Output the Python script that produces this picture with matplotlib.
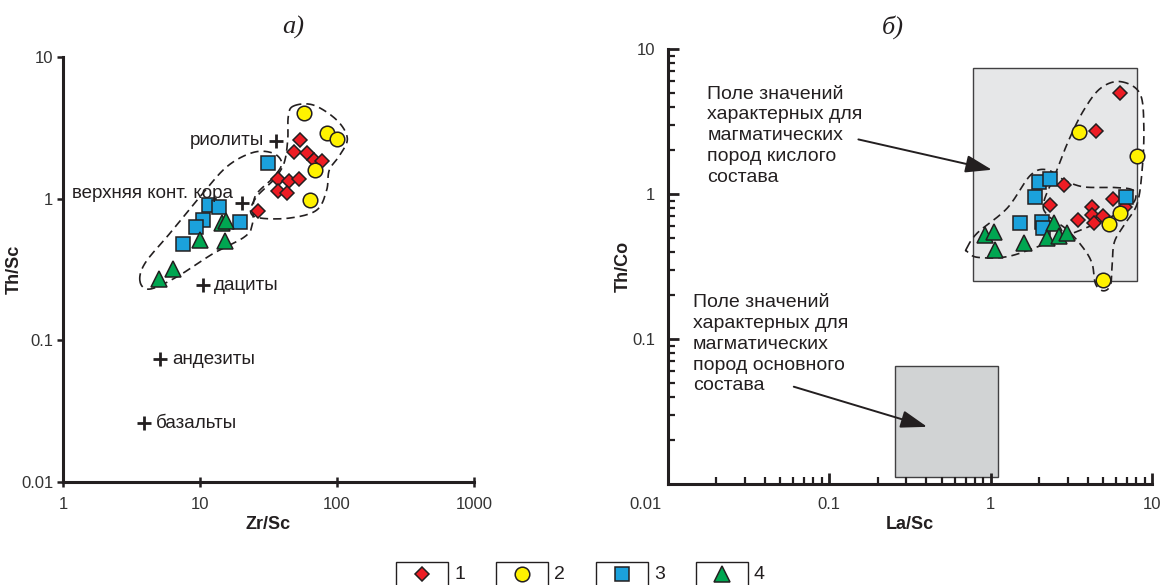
import numpy as np
import matplotlib
matplotlib.use("Agg")
import matplotlib.pyplot as plt
from matplotlib.patches import Rectangle
from matplotlib.transforms import ScaledTranslation
from matplotlib.ticker import FixedLocator, FuncFormatter, LogLocator, NullFormatter

plt.rcParams["font.family"] = ["Liberation Sans", "DejaVu Sans"]

# ---- panel a: Zr/Sc vs Th/Sc ----
a_red_x = [53.7, 48.8, 60.7, 67.9, 77.3, 37.3, 44.9, 52.5, 37.3, 42.9, 26.6]
a_red_y = [2.59, 2.14, 2.11, 1.87, 1.85, 1.37, 1.34, 1.37, 1.14, 1.10, 0.82]
a_yel_x = [57.8, 84.0, 100.5, 69.5, 63.5]
a_yel_y = [4.0, 2.89, 2.62, 1.59, 0.98]
a_blu_x = [31.5, 11.6, 13.8, 10.5, 9.35, 19.6, 7.47]
a_blu_y = [1.79, 0.90, 0.87, 0.71, 0.63, 0.68, 0.48]
a_grn_x = [14.4, 15.5, 10.0, 15.2, 6.4, 5.05]
a_grn_y = [0.67, 0.69, 0.51, 0.50, 0.32, 0.27]

ref_names = ["риолиты", "верхняя конт. кора", "дациты", "андезиты", "базальты"]
ref_x = [35.9, 20.1, 10.5, 5.1, 3.9]
ref_y = [2.56, 0.935, 0.245, 0.0735, 0.026]

# hand-drawn group outlines (vertices, data units)
envA_x = [3.65, 3.97, 6.04, 10.0, 15.7, 24.5, 34.3, 39.5, 34.3, 25.2, 24.2, 21.3, 12.5, 6.76, 4.31]
envA_y = [0.26, 0.35, 0.57, 1.03, 1.68, 2.12, 2.09, 1.77, 1.41, 1.03, 0.67, 0.54, 0.41, 0.28, 0.23]
envB_x = [48.0, 67.1, 99.5, 119, 105, 87.9, 84.1, 71.1, 45.4, 27.4, 23.4, 25.9, 34.3, 41.0, 43.7, 44.1]
envB_y = [4.5, 4.58, 3.59, 2.67, 2.03, 1.59, 1.15, 0.83, 0.73, 0.73, 0.81, 1.03, 1.35, 1.77, 2.59, 3.79]

# ---- panel б: La/Sc vs Th/Co ----
b_red_x = [6.38, 4.51, 2.85, 2.35, 5.75, 4.26, 3.49, 4.26, 4.99, 4.40, 6.85]
b_red_y = [5.0, 2.72, 1.15, 0.84, 0.93, 0.82, 0.66, 0.72, 0.71, 0.63, 0.82]
b_yel_x = [3.52, 8.1, 6.32, 5.40, 4.99]
b_yel_y = [2.69, 1.83, 0.74, 0.62, 0.255]
b_blu_x = [2.0, 2.32, 1.88, 6.95, 1.53, 2.07, 2.12]
b_blu_y = [1.21, 1.26, 0.96, 0.96, 0.63, 0.64, 0.58]
b_grn_x = [0.93, 1.05, 1.07, 1.61, 2.49, 2.24, 2.65, 2.99]
b_grn_y = [0.52, 0.55, 0.41, 0.46, 0.63, 0.50, 0.51, 0.54]

envC_x = [0.71, 0.83, 1.27, 1.77, 2.24, 2.85, 3.78, 5.80, 7.54, 7.91, 7.02, 5.03, 3.28, 2.04, 1.27, 0.83, 0.72]
envC_y = [0.42, 0.54, 0.80, 1.35, 1.47, 1.25, 1.12, 1.11, 1.07, 0.93, 0.80, 0.66, 0.54, 0.44, 0.37, 0.366, 0.40]
envD_x = [6.38, 8.41, 8.9, 8.69, 8.1, 6.85, 5.86, 5.67, 5.53, 4.99, 4.47, 4.26, 3.78, 2.99, 2.24, 2.14, 2.53, 3.05, 3.78, 4.80]
envD_y = [5.96, 4.94, 2.91, 1.47, 0.86, 0.63, 0.47, 0.33, 0.236, 0.215, 0.24, 0.33, 0.42, 0.565, 0.72, 0.885, 1.39, 2.35, 3.79, 5.36]

acid_box = (0.78, 8.1, 0.25, 7.36)     # xmin, xmax, ymin, ymax
basic_box = (0.255, 1.12, 0.0111, 0.065)
acid_text = "Поле значений\nхарактерных для\nмагматических\nпород кислого\nсостава"
basic_text = "Поле значений\nхарактерных для\nмагматических\nпород основного\nсостава"

legend_labels = ["1", "2", "3", "4"]

DARK = "#231f20"
styles = [
    dict(marker="D", ms=7.5, mfc="#ed1c24"),
    dict(marker="o", ms=10.5, mfc="#fff200"),
    dict(marker="s", ms=10, mfc="#1ba1dc"),
    dict(marker="^", ms=12, mfc="#00a651"),
]


def closed_curve(xs, ys, n=24):
    # periodic Catmull-Rom through the vertices, in log space
    P = np.column_stack([np.log10(xs), np.log10(ys)])
    m = len(P)
    t = np.linspace(0, 1, n, endpoint=False)[:, None]
    segs = []
    for i in range(m):
        p0, p1, p2, p3 = P[i - 1], P[i], P[(i + 1) % m], P[(i + 2) % m]
        segs.append(0.5 * (2 * p1 + (-p0 + p2) * t
                           + (2 * p0 - 5 * p1 + 4 * p2 - p3) * t ** 2
                           + (-p0 + 3 * p1 - 3 * p2 + p3) * t ** 3))
    pts = np.vstack(segs + [segs[0][:1]])
    return 10 ** pts[:, 0], 10 ** pts[:, 1]


def draw_points(ax, groups):
    for (x, y), st in zip(groups, styles):
        ax.plot(x, y, linestyle="none", mec=DARK, mew=1.1, zorder=4, **st)


def draw_envelope(ax, xs, ys):
    cx, cy = closed_curve(xs, ys)
    ax.plot(cx, cy, color=DARK, lw=1.2, dashes=(5, 3), zorder=3)


def style_axes(ax):
    ax.set_xscale("log")
    ax.set_yscale("log")
    for s in ["top", "right"]:
        ax.spines[s].set_visible(False)
    for s in ["left", "bottom"]:
        ax.spines[s].set_linewidth(2.2)
        ax.spines[s].set_color(DARK)
    ax.tick_params(labelsize=12, colors=DARK, labelcolor="#333333")
    ax.set_facecolor("none")


fig = plt.figure(figsize=(11.66, 5.85), dpi=100)

# ---------- panel a ----------
axa = fig.add_axes([0.0540, 0.1761, 0.3525, 0.7265])
style_axes(axa)
axa.set_xlim(1, 1000)
axa.set_ylim(0.01, 10)
axa.xaxis.set_major_locator(FixedLocator([1, 10, 100, 1000]))
axa.yaxis.set_major_locator(FixedLocator([0.01, 0.1, 1, 10]))
axa.xaxis.set_minor_locator(FixedLocator([]))
axa.yaxis.set_minor_locator(FixedLocator([]))
fmt = FuncFormatter(lambda v, p: f"{v:g}")
axa.xaxis.set_major_formatter(fmt)
axa.yaxis.set_major_formatter(fmt)
axa.tick_params(axis="x", direction="inout", length=7, width=1.8, pad=7)
axa.tick_params(axis="y", direction="out", length=4, width=1.8, pad=3)
axa.set_xlabel("Zr/Sc", fontsize=13, fontweight="bold", color=DARK, labelpad=3)
axa.set_ylabel("Th/Sc", fontsize=13, fontweight="bold", color=DARK)
axa.yaxis.set_label_coords(-0.098, 0.5)

draw_envelope(axa, envA_x, envA_y)
draw_envelope(axa, envB_x, envB_y)
draw_points(axa, [(a_red_x, a_red_y), (a_yel_x, a_yel_y),
                  (a_blu_x, a_blu_y), (a_grn_x, a_grn_y)])

axa.plot(ref_x, ref_y, linestyle="none", marker="+", ms=10, mew=2, color=DARK, zorder=5)
ref_offsets = [(-12, 0, "right"), (-9, 9, "right"), (11, 0, "left"), (12, 0, "left"), (12, 0, "left")]
for name, x, y, (dx, dy, ha) in zip(ref_names, ref_x, ref_y, ref_offsets):
    axa.annotate(name, (x, y), xytext=(dx, dy), textcoords="offset pixels",
                 ha=ha, va="center", fontsize=13.5, color=DARK, zorder=6)

fig.text(0.2513, 0.953, "а)", fontsize=19, family="Liberation Serif", style="italic",
         ha="center", va="center", color=DARK)

# ---------- panel б ----------
axb = fig.add_axes([0.5725, 0.1726, 0.4155, 0.7436])
style_axes(axb)
axb.set_xlim(0.01, 10)
axb.set_ylim(0.01, 10)
axb.xaxis.set_major_locator(FixedLocator([0.01, 0.1, 1, 10]))
axb.yaxis.set_major_locator(FixedLocator([0.1, 1, 10]))
axb.xaxis.set_minor_locator(LogLocator(base=10, subs=np.arange(2, 10)))
axb.yaxis.set_minor_locator(LogLocator(base=10, subs=np.arange(2, 10)))
axb.xaxis.set_minor_formatter(NullFormatter())
axb.yaxis.set_minor_formatter(NullFormatter())
axb.xaxis.set_major_formatter(fmt)
axb.yaxis.set_major_formatter(fmt)
axb.tick_params(which="major", direction="in", length=8, width=2, pad=9)
axb.tick_params(which="minor", direction="in", length=5, width=1.6, colors=DARK)
first = axb.xaxis.get_majorticklabels()[0]
first.set_transform(first.get_transform() + ScaledTranslation(-0.22, 0, fig.dpi_scale_trans))
axb.set_xlabel("La/Sc", fontsize=13, fontweight="bold", color=DARK, labelpad=3)
axb.set_ylabel("Th/Co", fontsize=13, fontweight="bold", color=DARK)
axb.yaxis.set_label_coords(-0.073, 0.5)

x0, x1, y0, y1 = acid_box
axb.add_patch(Rectangle((x0, y0), x1 - x0, y1 - y0, facecolor="#e6e7e8",
                        edgecolor="#414042", lw=1.0, zorder=1))
x0, x1, y0, y1 = basic_box
axb.add_patch(Rectangle((x0, y0), x1 - x0, y1 - y0, facecolor="#d1d3d4",
                        edgecolor="#414042", lw=1.0, zorder=1))

draw_envelope(axb, envC_x, envC_y)
draw_envelope(axb, envD_x, envD_y)
draw_points(axb, [(b_red_x, b_red_y), (b_yel_x, b_yel_y),
                  (b_blu_x, b_blu_y), (b_grn_x, b_grn_y)])

axb.text(0.0176, 5.6, acid_text, ha="left", va="top", fontsize=14,
         color=DARK, linespacing=1.3, zorder=6)
axb.text(0.0144, 0.205, basic_text, ha="left", va="top", fontsize=14,
         color=DARK, linespacing=1.3, zorder=6)
arrow = dict(arrowstyle="-|>,head_length=0.9,head_width=0.3", color=DARK, lw=1.4,
             shrinkA=0, shrinkB=0, mutation_scale=18)
axb.annotate("", xy=(1.02, 1.47), xytext=(0.152, 2.38), arrowprops=arrow, zorder=6)
axb.annotate("", xy=(0.405, 0.0248), xytext=(0.0605, 0.0469), arrowprops=arrow, zorder=6)

fig.text(0.766, 0.953, "б)", fontsize=19, family="Liberation Serif", style="italic",
         ha="center", va="center", color=DARK)

# ---------- legend strip ----------
axl = fig.add_axes([0, 0, 1, 40 / 585])
axl.set_xlim(0, 1166)
axl.set_ylim(40, 0)
axl.axis("off")
for i, (lab, st) in enumerate(zip(legend_labels, styles)):
    left = 396 + 100 * i
    axl.add_patch(Rectangle((left, 16.5), 52, 40, facecolor="white",
                            edgecolor=DARK, lw=1.0, clip_on=True))
    axl.plot([left + 26], [28.5], linestyle="none", mec=DARK, mew=1.1, **st)
    axl.text(left + 58, 29.5, lab, ha="left", va="center", fontsize=14, color=DARK)

fig.savefig("out.png", dpi=100)
